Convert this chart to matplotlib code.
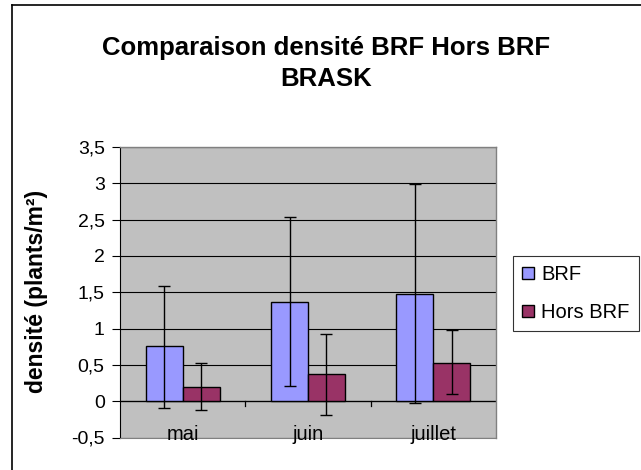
import matplotlib
matplotlib.use("Agg")
import matplotlib.pyplot as plt
import numpy as np
from matplotlib.ticker import FuncFormatter
from matplotlib.lines import Line2D
from matplotlib.patches import Patch

plt.rcParams['font.family'] = ['Liberation Sans', 'DejaVu Sans']

categories = ["mai", "juin", "juillet"]
series_names = ["BRF", "Hors BRF"]
brf_values = [0.76, 1.37, 1.48]
brf_err_low = [0.85, 1.16, 1.50]
brf_err_high = [0.83, 1.16, 1.51]
hors_values = [0.19, 0.38, 0.53]
hors_err_low = [0.31, 0.57, 0.43]
hors_err_high = [0.33, 0.55, 0.45]
yticks = [-0.5, 0, 0.5, 1, 1.5, 2, 2.5, 3, 3.5]

W, H = 641, 470
fig = plt.figure(figsize=(W / 100, H / 100), dpi=100)
fig.patch.set_facecolor("white")

# plot area in pixels
x0, x1 = 120, 496
y_top, y_bot = 147, 437.5
ax = fig.add_axes([x0 / W, 1 - y_bot / H, (x1 - x0) / W, (y_bot - y_top) / H])
ax.set_facecolor("#C0C0C0")

x = np.arange(len(categories))
bw = 0.295
ax.bar(x - bw / 2, brf_values, bw, color="#9999FF", edgecolor="black", linewidth=1.0, zorder=3)
ax.bar(x + bw / 2, hors_values, bw, color="#993366", edgecolor="black", linewidth=1.0, zorder=3)
ax.errorbar(x - bw / 2, brf_values, yerr=[brf_err_low, brf_err_high], fmt="none",
            ecolor="black", elinewidth=1.0, capsize=4, capthick=1.0, zorder=4)
ax.errorbar(x + bw / 2, hors_values, yerr=[hors_err_low, hors_err_high], fmt="none",
            ecolor="black", elinewidth=1.0, capsize=4, capthick=1.0, zorder=4)

ax.set_xlim(-0.5, len(categories) - 0.5)
ax.set_ylim(-0.5, 3.5)
ax.set_yticks(yticks)
ax.yaxis.set_major_formatter(FuncFormatter(lambda v, p: ("%g" % v).replace(".", ",")))
ax.grid(axis="y", color="black", linewidth=0.8, zorder=1)
ax.set_axisbelow(True)
ax.tick_params(axis="y", direction="out", length=6, width=0.8, labelsize=14, pad=5, colors="black")
ax.set_xticks([])

for side in ["top", "right"]:
    ax.spines[side].set_color("#808080")
    ax.spines[side].set_linewidth(1.0)
ax.spines["bottom"].set_color("#808080")
ax.spines["left"].set_color("black")
ax.spines["left"].set_linewidth(0.8)

# zero axis line and category boundary ticks
ax.axhline(0, color="black", linewidth=0.9, zorder=2)
for b in [0.5, 1.5]:
    ax.plot([b, b], [0, -0.07], color="black", linewidth=0.9, zorder=2, clip_on=False)

# category labels next to the zero axis
for i, c in enumerate(categories):
    ax.text(i, -0.46, c, ha="center", va="center", fontsize=14.5, zorder=5)

ax.set_ylabel("densité (plants/m²)", fontsize=16.5, fontweight="bold")
ax.yaxis.set_label_coords((48 - x0) / (x1 - x0), (y_bot - 291) / (y_bot - y_top))

fig.text(326 / W, 1 - 48 / H, "Comparaison densité BRF Hors BRF", ha="center", va="center",
         fontsize=18.5, fontweight="bold")
fig.text(326 / W, 1 - 79 / H, "BRASK", ha="center", va="center",
         fontsize=18.5, fontweight="bold")

handles = [Patch(facecolor="#9999FF", edgecolor="black"), Patch(facecolor="#993366", edgecolor="black")]
leg = fig.legend(handles, series_names, loc="upper left",
                 bbox_to_anchor=(513 / W, 1 - 256 / H), frameon=True, fancybox=False,
                 fontsize=14.5, handlelength=0.6, handleheight=0.6, handletextpad=0.35,
                 borderpad=0.45, labelspacing=0.95, borderaxespad=0)
leg.get_frame().set_edgecolor("black")
leg.get_frame().set_linewidth(0.8)

# chart outer border (left and top visible)
fig.add_artist(Line2D([12 / W, 12 / W], [0, 1 - 5 / H], color="black", linewidth=1.2, transform=fig.transFigure))
fig.add_artist(Line2D([12 / W, 1], [1 - 5 / H, 1 - 5 / H], color="black", linewidth=1.2, transform=fig.transFigure))

fig.savefig("out.png", dpi=100)
